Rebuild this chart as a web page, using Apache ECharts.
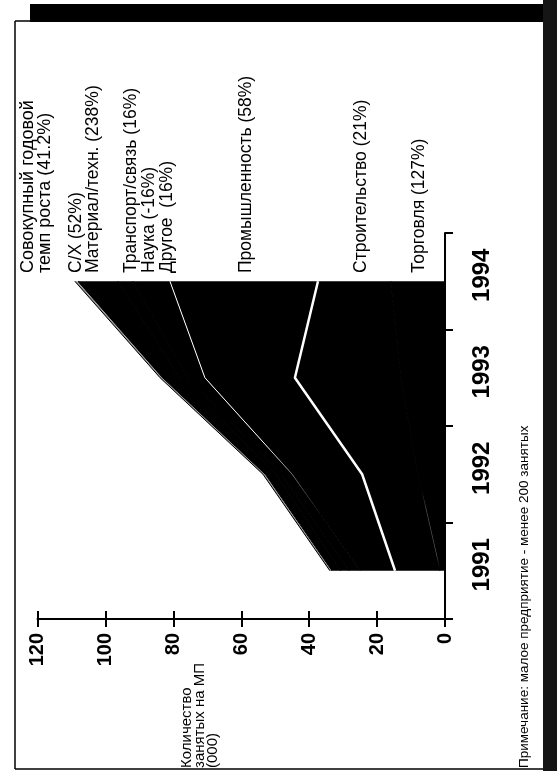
<!DOCTYPE html>
<html><head><meta charset="utf-8">
<script src="https://cdn.jsdelivr.net/npm/echarts@6/dist/echarts.min.js"></script>
<style>html,body{margin:0;padding:0;background:#fff}#c{width:557px;height:771px}</style>
</head><body><div id="c"></div>
<script>
// Categories (years) and stacked series values (thousand employees), bottom to top
const years = ['1991', '1992', '1993', '1994'];
const torgovlya = [1.5, 8.0, 13.0, 16.0];
const stroitelstvo = [13.2, 16.4, 31.2, 21.4];
const promyshlennost = [10.3, 20.6, 26.5, 43.6];
const drugoe = [3.2, 3.2, 5.0, 11.0];
const nauka = [2.5, 1.7, 2.4, 4.3];
const transport = [2.6, 3.0, 5.0, 11.75];
const material = [0.2, 0.25, 0.3, 0.35];
const selkhoz = [0.4, 0.45, 0.5, 0.6];

// Texts
const headerLines = ['Совокупный годовой', 'темп роста (41.2%)'];
const sectorTexts = ['С/Х (52%)', 'Материал/техн. (238%)', 'Транспорт/связь (16%)', 'Наука (-16%)', 'Другое  (16%)', 'Промышленность (58%)', 'Строительство (21%)', 'Торговля (127%)'];
const axisTitleLines = ['Количество', 'занятых на МП', '(000)'];
const noteText = 'Примечание: малое предприятие - менее 200 занятых';

const FONT = "'Liberation Sans', Arial, Helvetica, sans-serif";
const HIDDEN = { color: '#000', width: 1.2 };

function grad(stops) {
  return new echarts.graphic.LinearGradient(0, 0, 0, 1, stops.map(function (s) { return { offset: s[0], color: s[1] }; }));
}

function area(name, data, fill, line, z) {
  return {
    name: name, type: 'line', stack: 'total', data: data, z: z,
    showSymbol: false, symbol: 'none', smooth: false,
    lineStyle: line,
    areaStyle: { color: fill, opacity: 1 },
    emphasis: { disabled: true }
  };
}

function vText(str, x, y, size, weight) {
  return {
    type: 'text', x: x, y: y, rotation: Math.PI / 2, z: 100,
    style: {
      text: str, fill: '#000', fontSize: size, fontFamily: FONT, fontWeight: weight || 'normal',
      align: 'left', verticalAlign: 'middle', textAlign: 'left', textVerticalAlign: 'middle'
    }
  };
}

const sectorX = [76.5, 93, 131, 149, 167, 246.5, 361.5, 419];
const graphics = [
  { type: 'rect', shape: { x: 30, y: 4, width: 527, height: 18 }, style: { fill: '#000' }, z: 100 },
  { type: 'rect', shape: { x: 543, y: 0, width: 14, height: 771 }, style: { fill: '#151515' }, z: 100 },
  { type: 'line', shape: { x1: 15, y1: 21, x2: 30, y2: 21 }, style: { stroke: '#000', lineWidth: 1.5 }, z: 100 },
  { type: 'line', shape: { x1: 15, y1: 21, x2: 15, y2: 769 }, style: { stroke: '#000', lineWidth: 1.5 }, z: 100 },
  { type: 'line', shape: { x1: 15, y1: 769, x2: 543, y2: 769 }, style: { stroke: '#000', lineWidth: 1.5 }, z: 100 },
  vText(headerLines[0], 28.5, 273, 18),
  vText(headerLines[1], 45.5, 273, 18)
];
sectorTexts.forEach(function (t, i) { graphics.push(vText(t, sectorX[i], 273, 17.5)); });
const titleX = [187, 200, 213];
axisTitleLines.forEach(function (t, i) { graphics.push(vText(t, titleX[i], 768, 15)); });
graphics.push(vText(noteText, 524, 768, 13.5));

const chart = echarts.init(document.getElementById('c'), null, { renderer: 'canvas' });
chart.setOption({
  animation: false,
  backgroundColor: '#fff',
  grid: { left: 37.5, right: 112, top: 233, bottom: 152, containLabel: false },
  xAxis: [{
    type: 'value', min: 0, max: 120, interval: 20, inverse: true, position: 'bottom',
    axisLine: { show: true, onZero: false, lineStyle: { color: '#000', width: 2 } },
    axisTick: { show: true, length: 8, lineStyle: { color: '#000', width: 2 } },
    axisLabel: { rotate: 90, margin: 14, color: '#000', fontSize: 20, fontWeight: 'bold', fontFamily: FONT },
    splitLine: { show: false }
  }, {
    type: 'value', min: 0, max: 120, interval: 20, inverse: true, position: 'top', offset: -386,
    axisLine: { show: false },
    axisTick: { show: true, length: 8, lineStyle: { color: '#000', width: 2 } },
    axisLabel: { show: false },
    splitLine: { show: false }
  }],
  yAxis: {
    type: 'category', data: years, position: 'right', boundaryGap: true,
    axisLine: { show: true, onZero: false, lineStyle: { color: '#000', width: 2 } },
    axisTick: { show: true, length: 8, lineStyle: { color: '#000', width: 2 } },
    axisLabel: { interval: 0, rotate: 90, margin: 25, color: '#000', fontSize: 24, fontWeight: 'bold', fontFamily: FONT, padding: [0, 0, 0, 12] },
    splitLine: { show: false }
  },
  series: [
    area('Торговля', torgovlya, '#000', { width: 1.2, color: grad([[0, '#000'], [0.72, '#000'], [0.78, '#555'], [0.94, '#555'], [0.98, '#000'], [1, '#000']]) }, 3),
    area('Строительство', stroitelstvo, '#000', { color: '#fff', width: 2.5 }, 5),
    area('Промышленность', promyshlennost, '#000', { width: 1, color: grad([[0, '#fff'], [0.55, '#fff'], [0.68, '#555'], [0.8, '#000'], [1, '#000']]) }, 4),
    area('Другое', drugoe, '#000', HIDDEN, 2),
    area('Наука', nauka, '#000', HIDDEN, 2),
    area('Транспорт/связь', transport, '#000', HIDDEN, 2),
    area('Материал/техн.', material, '#fff', { width: 0, opacity: 0 }, 2),
    area('С/Х', selkhoz, '#8a8a8a', { color: '#000', width: 1 }, 6)
  ],
  graphic: graphics
});
</script>
</body></html>
